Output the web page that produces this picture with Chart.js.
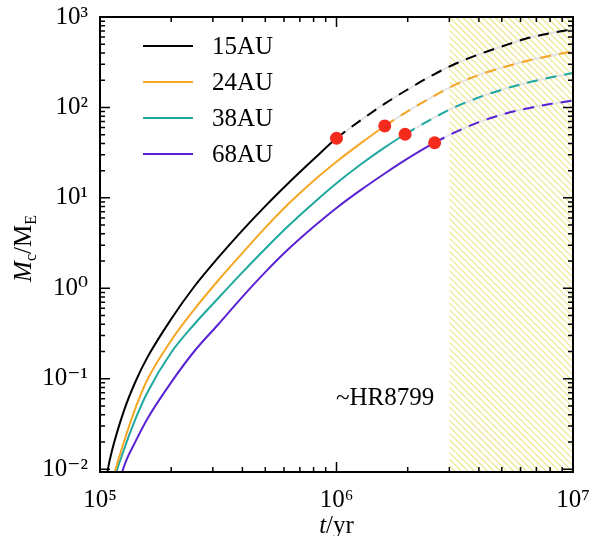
<!DOCTYPE html>
<html>
<head>
<meta charset="utf-8">
<script src="https://cdn.jsdelivr.net/npm/chart.js@4.4.1/dist/chart.umd.min.js"></script>
<style>
  html, body { margin: 0; padding: 0; background: #fff; }
  canvas { display: block; }
</style>
</head>
<body>
<canvas id="chart" width="592" height="536"></canvas>
<script>
// time grid (yr)
const times = [1.05e5, 1.08e5, 1.12e5, 1.26e5, 1.41e5, 1.58e5, 2e5, 2.5e5, 3.16e5, 4e5, 5e5, 6.3e5, 8e5,
  1e6, 1.26e6, 1.6e6, 1.95e6, 2.6e6, 3.2e6, 4e6, 5e6, 6.3e6, 8e6, 1e7];

// core mass (Earth masses)
const mass15 = [0.0060, 0.0100, 0.0155, 0.0436, 0.092, 0.169, 0.457, 1.04, 2.18, 4.37, 8.11, 14.8, 26.7,
  45.6, 71.4, 110, 152, 234, 306, 386, 472, 575, 661, 733];
const mass24 = [0.0028, 0.0045, 0.0069, 0.0197, 0.0468, 0.0955, 0.265, 0.581, 1.22, 2.45, 4.68, 8.71, 15.5,
  25.1, 39.8, 62.4, 87.1, 135, 180, 229, 275, 324, 372, 417];
const mass38 = [0.002, 0.00355, 0.006, 0.0162, 0.0355, 0.0692, 0.195, 0.398, 0.776, 1.50, 2.74, 4.97, 8.77,
  14.5, 23.2, 36.1, 50.5, 77.6, 102, 129, 157, 186, 214, 240];
const mass68 = [0.001, 0.0018, 0.0032, 0.0105, 0.020, 0.0355, 0.0912, 0.20, 0.398, 0.805, 1.51, 2.75, 4.79,
  7.74, 12.1, 18.6, 26.1, 40.7, 53.7, 68.7, 83.2, 96.6, 109, 119];

const labels = ['15AU', '24AU', '38AU', '68AU'];
const colors = ['#000000', '#f5a623', '#1fa89f', '#5a22d2'];
const masses = [mass15, mass24, mass38, mass68];

// red markers where the solid part ends
const dotTimes = [1e6, 1.6e6, 1.95e6, 2.6e6];
const dotMass = [45.6, 62.4, 50.5, 40.7];

const xTicks = [1e5, 1e6, 1e7];
const yTicks = [1e-2, 1e-1, 1, 10, 100, 1000];
const hatchStart = 3e6;

const FONT = "'Liberation Serif', 'DejaVu Serif', serif";
const SUP = { '-': '\u207b', '0': '\u2070', '1': '\u00b9', '2': '\u00b2', '3': '\u00b3', '4': '\u2074',
  '5': '\u2075', '6': '\u2076', '7': '\u2077', '8': '\u2078', '9': '\u2079' };
const pow10 = v => '10' + String(Math.round(Math.log10(v))).split('').map(c => SUP[c]).join('');

const datasets = [];
datasets.push({
  label: 'dots',
  data: dotTimes.map((t, i) => ({ x: t, y: dotMass[i] })),
  showLine: false,
  pointRadius: 6.5,
  pointBackgroundColor: '#f42a1c',
  pointBorderWidth: 0
});
masses.forEach((m, i) => {
  datasets.push({
    label: labels[i],
    data: times.map((t, j) => ({ x: t, y: m[j] })),
    showLine: true,
    cubicInterpolationMode: 'monotone',
    borderColor: colors[i],
    borderWidth: 2,
    pointRadius: 0,
    segment: { borderDash: ctx => ctx.p0.parsed.x >= dotTimes[i] ? [11, 8] : undefined }
  });
});
// light line under the dashed part
masses.forEach((m, i) => {
  datasets.push({
    label: 'gap',
    data: times.map((t, j) => ({ x: t, y: m[j] })).filter(p => p.x >= dotTimes[i]),
    showLine: true,
    cubicInterpolationMode: 'monotone',
    borderColor: '#e4e4e4',
    borderWidth: 2,
    pointRadius: 0
  });
});

const minors = (lo, hi) => {
  const out = [];
  for (let d = lo; d < hi; d *= 10) for (let k = 2; k <= 9; k++) out.push(d * k);
  return out;
};

const decor = {
  id: 'decor',
  beforeDatasetsDraw(chart) {
    const { ctx, chartArea: a, scales: { x } } = chart;
    const x0 = x.getPixelForValue(hatchStart);
    const h = a.bottom - a.top;
    ctx.save();
    ctx.beginPath();
    ctx.rect(x0, a.top, a.right - x0, h);
    ctx.clip();
    ctx.strokeStyle = '#ebe385';
    ctx.lineWidth = 1.1;
    ctx.beginPath();
    for (let k = -h; k < a.right - x0; k += 6.5) {
      ctx.moveTo(x0 + k, a.top);
      ctx.lineTo(x0 + k + h, a.bottom);
    }
    ctx.stroke();
    ctx.restore();
  },
  afterDraw(chart) {
    const { ctx, chartArea: a, scales: { x, y } } = chart;
    ctx.save();
    ctx.strokeStyle = '#000';
    ctx.lineWidth = 2;
    ctx.strokeRect(a.left, a.top, a.right - a.left, a.bottom - a.top);

    ctx.lineWidth = 1.5;
    ctx.beginPath();
    const xt = (v, len) => {
      const px = x.getPixelForValue(v);
      ctx.moveTo(px, a.bottom); ctx.lineTo(px, a.bottom - len);
      ctx.moveTo(px, a.top); ctx.lineTo(px, a.top + len);
    };
    const yt = (v, len) => {
      const py = y.getPixelForValue(v);
      if (py < a.top - 1 || py > a.bottom + 1) return;
      ctx.moveTo(a.left, py); ctx.lineTo(a.left + len, py);
      ctx.moveTo(a.right, py); ctx.lineTo(a.right - len, py);
    };
    xTicks.forEach(v => xt(v, 10));
    minors(1e5, 1e7).forEach(v => xt(v, 5));
    yTicks.forEach(v => yt(v, 10));
    minors(1e-3, 1e3).forEach(v => yt(v, 5));
    ctx.stroke();

    // legend
    ctx.font = '25px ' + FONT;
    ctx.textBaseline = 'middle';
    ctx.textAlign = 'left';
    labels.forEach((lab, i) => {
      const yy = 46 + i * 36;
      ctx.strokeStyle = colors[i];
      ctx.lineWidth = 2;
      ctx.beginPath();
      ctx.moveTo(143, yy); ctx.lineTo(193, yy);
      ctx.stroke();
      ctx.fillStyle = '#000';
      ctx.fillText(lab, 212, yy + 1);
    });

    ctx.fillText('~HR8799', 336, 398);

    // x title
    ctx.textBaseline = 'alphabetic';
    ctx.font = 'italic 25px ' + FONT;
    const tW = ctx.measureText('t').width;
    ctx.font = '25px ' + FONT;
    const rW = ctx.measureText('/yr').width;
    const sx = (a.left + a.right) / 2 - (tW + rW) / 2;
    ctx.font = 'italic 25px ' + FONT;
    ctx.fillText('t', sx, 533);
    ctx.font = '25px ' + FONT;
    ctx.fillText('/yr', sx + tW, 533);

    // y title
    ctx.translate(31, (a.top + a.bottom) / 2 + 4);
    ctx.rotate(-Math.PI / 2);
    const parts = [
      { t: 'M', f: 'italic 25px ', dy: 0 },
      { t: 'c', f: '16px ', dy: 5 },
      { t: '/M', f: '25px ', dy: 0 },
      { t: 'E', f: '16px ', dy: 5 }
    ];
    let w = 0;
    parts.forEach(p => { ctx.font = p.f + FONT; p.w = ctx.measureText(p.t).width; w += p.w; });
    let cx = -w / 2;
    parts.forEach(p => { ctx.font = p.f + FONT; ctx.fillText(p.t, cx, p.dy); cx += p.w; });
    ctx.restore();
  }
};

new Chart(document.getElementById('chart'), {
  type: 'scatter',
  data: { datasets },
  options: {
    responsive: false,
    animation: false,
    layout: { padding: { top: 17, right: 19, left: 0, bottom: 0 } },
    plugins: { legend: { display: false }, tooltip: { enabled: false } },
    scales: {
      x: {
        type: 'logarithmic',
        min: 1e5,
        max: 1e7,
        afterFit: s => { s.height = 64; s.paddingLeft = 0; s.paddingRight = 0; },
        afterBuildTicks: s => { s.ticks = xTicks.map(v => ({ value: v })); },
        grid: { display: false },
        border: { display: false },
        ticks: {
          color: '#000',
          padding: 5,
          autoSkip: false,
          maxRotation: 0,
          font: { family: FONT, size: 25 },
          callback: v => pow10(v)
        }
      },
      y: {
        type: 'logarithmic',
        min: 0.0093,
        max: 1000,
        afterFit: s => { s.width = 100; s.paddingTop = 0; s.paddingBottom = 0; },
        afterBuildTicks: s => { s.ticks = yTicks.map(v => ({ value: v })); },
        grid: { display: false },
        border: { display: false },
        ticks: {
          color: '#000',
          padding: 4,
          autoSkip: false,
          font: { family: FONT, size: 25 },
          callback: v => pow10(v)
        }
      }
    }
  },
  plugins: [decor]
});
</script>
</body>
</html>
